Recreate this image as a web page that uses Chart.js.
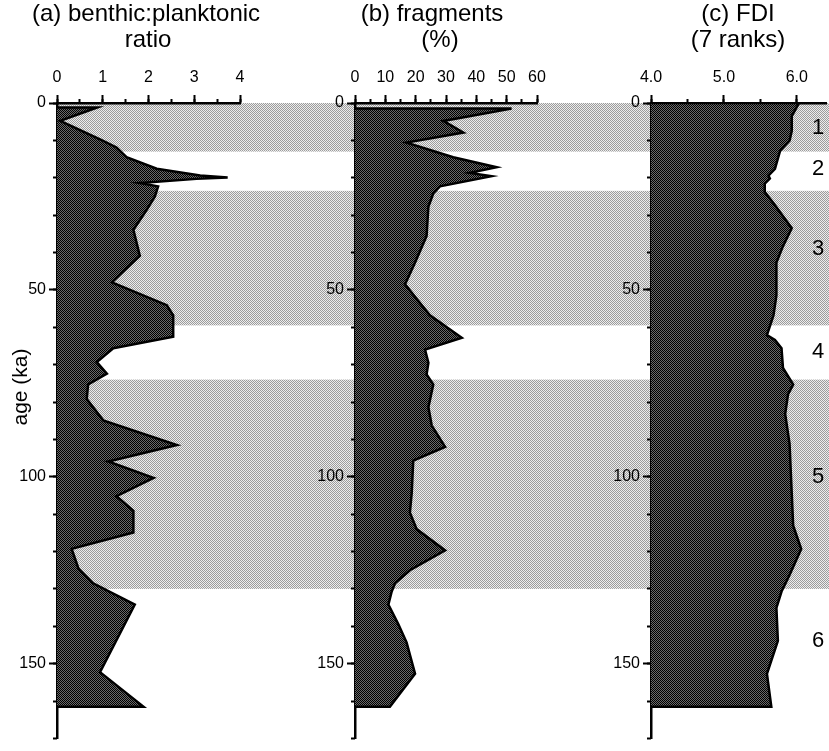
<!DOCTYPE html>
<html lang="en">
<head>
<meta charset="UTF-8">
<title>Benthic ratio, fragments and FDI</title>
<script src="https://cdn.jsdelivr.net/npm/chart.js@4.4.1/dist/chart.umd.min.js"></script>
<style>
  html, body { margin: 0; padding: 0; background: #fff; }
  .wrap { position: relative; width: 829px; height: 751px; overflow: hidden; }
  .wrap canvas { position: absolute; top: 0; }
</style>
</head>
<body>
<div class="wrap">
  <canvas id="chartA" width="300" height="751" style="left:0px"></canvas>
  <canvas id="chartB" width="260" height="751" style="left:300px"></canvas>
  <canvas id="chartC" width="269" height="751" style="left:560px"></canvas>
</div>
<script>
// isotope stages 1, 3 and 5 shaded (ka)
const stageBands = [[0, 13], [23.5, 59.5], [74, 130]];
const stageNames = ['1', '2', '3', '4', '5', '6'];
const stageLabelAges = [6.6, 17.6, 39, 66.5, 100, 144];

// (a) benthic:planktonic ratio
const ageA = [1.2, 1.2, 4.8, 9.7, 11.9, 14.5, 17.6, 19.4, 19.9, 20.3, 21.4, 22.3, 25, 28.6, 33.9,
  40.9, 48, 54.1, 56.8, 62.5, 65.6, 69.3, 72.4, 75.3, 79.2, 84.9, 91.5, 95.9, 100.3, 105.2,
  109.1, 114.9, 119.3, 124.6, 128.5, 134.2, 152.3, 161.5, 161.5];
const ratioA = [0, 0.88, 0.07, 0.94, 1.30, 1.52, 2.18, 3.13, 3.73, 3.05, 1.81, 2.21, 2.14, 1.96, 1.67,
  1.81, 1.20, 2.40, 2.54, 2.54, 1.23, 0.87, 1.09, 0.68, 0.65, 1.01, 2.62, 1.12, 2.11, 1.30,
  1.67, 1.67, 0.32, 0.47, 0.79, 1.70, 0.94, 1.89, 0];

// (b) fragments (%)
const ageB = [1.5, 1.5, 4.8, 7.9, 10.6, 14.5, 17.2, 18.7, 19.6, 22.3, 24.2, 27.7, 35.6, 42.7, 48.5,
  52.4, 56.8, 62.8, 66, 69.5, 72.6, 75.3, 81.4, 86.3, 92, 95.7, 104.3, 109.6, 114, 119.7,
  125, 128.5, 130.7, 134.2, 139.5, 144.3, 152.7, 161.5, 161.5];
const fragB = [0, 51.6, 29.1, 35.7, 17.0, 32.4, 46.7, 37.9, 45.0, 28.0, 25.8, 24.2, 23.6, 19.8, 16.5,
  20.3, 24.7, 35.2, 23.1, 24.2, 23.6, 25.8, 24.2, 25.3, 29.7, 19.2, 18.7, 18.1, 20.3, 29.7,
  18.1, 13.2, 12.1, 11.0, 14.3, 17.0, 19.8, 11.5, 0];

// (c) FDI (7 ranks)
const ageC = [0, 0, 3.5, 7.5, 10.1, 12.8, 17.6, 19.4, 20.2, 21.6, 23.8, 26.8, 33.5, 38.3, 42.7,
  51.5, 56.8, 62.1, 63.4, 65.6, 70.9, 75.3, 77.9, 83.2, 91.1, 104.3, 113.1, 119.3, 126.3, 130.7,
  135.1, 143.9, 152.7, 161.5, 161.5];
const fdiC = [4.0, 6.03, 5.93, 5.93, 5.90, 5.77, 5.70, 5.61, 5.63, 5.56, 5.56, 5.68, 5.93, 5.81, 5.72,
  5.72, 5.68, 5.59, 5.70, 5.79, 5.81, 5.95, 5.88, 5.84, 5.90, 5.93, 5.95, 6.06, 5.90, 5.79,
  5.72, 5.74, 5.59, 5.65, 4.0];

const FONT = '"Liberation Sans", Arial, Helvetica, sans-serif';

// small 2x2 checker tiles give the halftone look
function makePattern(dark, light) {
  const tile = document.createElement('canvas');
  tile.width = 2;
  tile.height = 2;
  const t = tile.getContext('2d');
  t.fillStyle = light;
  t.fillRect(0, 0, 2, 2);
  t.fillStyle = dark;
  t.fillRect(0, 0, 1, 1);
  t.fillRect(1, 1, 1, 1);
  return t.createPattern(tile, 'repeat');
}
const bandFill = makePattern('#9c9c9c', '#ededed');
const areaFill = makePattern('#000000', '#6a6a6a');

const bandPlugin = {
  id: 'bands',
  beforeDraw(chart, args, opts) {
    const { ctx, scales: { y } } = chart;
    const x0 = opts.fromAxis ? chart.chartArea.left : 0;
    ctx.save();
    ctx.fillStyle = bandFill;
    stageBands.forEach(([a, b]) => {
      const y0 = y.getPixelForValue(a);
      const y1 = y.getPixelForValue(b);
      ctx.fillRect(x0, y0, chart.width - x0, y1 - y0);
    });
    ctx.restore();
  }
};

const textPlugin = {
  id: 'texts',
  afterDraw(chart, args, opts) {
    const { ctx, scales: { y } } = chart;
    ctx.save();
    ctx.fillStyle = '#000';
    ctx.textAlign = 'center';
    ctx.textBaseline = 'alphabetic';
    ctx.font = '24px ' + FONT;
    opts.title.forEach((line, i) => ctx.fillText(line, opts.titleX[i], 21 + i * 26));

    if (opts.yTitle) {
      ctx.save();
      ctx.translate(21, 387);
      ctx.rotate(-Math.PI / 2);
      ctx.textBaseline = 'middle';
      ctx.font = '21px ' + FONT;
      ctx.fillText(opts.yTitle, 0, 0);
      ctx.restore();
    }

    if (opts.stages) {
      ctx.textBaseline = 'middle';
      ctx.font = '22px ' + FONT;
      stageNames.forEach((s, i) => {
        ctx.fillText(s, 258, y.getPixelForValue(stageLabelAges[i]));
      });
    }
    ctx.restore();
  }
};

function makeChart(id, ages, values, o) {
  // first and last points sit on the axis, so the line closes on itself
  const points = ages.map((a, i) => ({ x: values[i], y: a }));
  const tickFont = { family: FONT, size: 16 };
  return new Chart(document.getElementById(id), {
    type: 'line',
    data: {
      datasets: [{
        data: points,
        xAxisID: 'x',
        yAxisID: 'y',
        borderColor: '#000',
        borderWidth: 2.5,
        backgroundColor: areaFill,
        fill: 'shape',
        pointRadius: 0,
        tension: 0
      }]
    },
    options: {
      indexAxis: 'y',
      responsive: false,
      animation: false,
      devicePixelRatio: 1,
      layout: { padding: { top: 0, left: 0, right: o.padRight, bottom: 3 } },
      scales: {
        x: {
          type: 'linear', position: 'top', weight: 1,
          min: o.min, max: o.max,
          afterFit(s) { s.height = 103; },
          border: { display: true, color: '#000', width: 2.5 },
          grid: { drawOnChartArea: false, tickLength: 8, tickWidth: 2, tickColor: '#000' },
          ticks: {
            stepSize: o.major, includeBounds: false, color: '#000', font: tickFont, padding: 8,
            maxRotation: 0, autoSkip: false,
            callback: o.fmt
          }
        },
        xm: {
          type: 'linear', position: 'top', weight: 0,
          min: o.min, max: o.max,
          afterFit(s) { s.height = 0; },
          border: { display: false },
          grid: { drawOnChartArea: false, tickLength: 4, tickWidth: 2, tickColor: '#000' },
          ticks: { display: false, stepSize: o.minor, includeBounds: false, autoSkip: false }
        },
        y: {
          type: 'linear', position: 'left', weight: 1, reverse: true,
          min: 0, max: 170,
          afterFit(s) { s.width = o.left; },
          border: { display: true, color: '#000', width: 2.5 },
          grid: { drawOnChartArea: false, tickLength: 8, tickWidth: 2, tickColor: '#000' },
          ticks: { stepSize: 50, includeBounds: false, color: '#000', font: tickFont, padding: 3, autoSkip: false }
        },
        ym: {
          type: 'linear', position: 'left', weight: 0, reverse: true,
          min: 0, max: 170,
          afterFit(s) { s.width = 0; },
          border: { display: false },
          grid: { drawOnChartArea: false, tickLength: 4, tickWidth: 2, tickColor: '#000' },
          ticks: { display: false, stepSize: 10, autoSkip: false }
        }
      },
      plugins: {
        legend: { display: false },
        tooltip: { enabled: false },
        bands: { fromAxis: o.bandFromAxis },
        texts: { title: o.title, titleX: o.titleX, yTitle: o.yTitle, stages: o.stages }
      }
    },
    plugins: [bandPlugin, textPlugin]
  });
}

makeChart('chartA', ageA, ratioA, {
  min: 0, max: 4, major: 1, minor: 0.5, left: 57, padRight: 60,
  fmt: v => String(v),
  title: ['(a) benthic:planktonic', 'ratio'], titleX: [146, 148],
  yTitle: 'age (ka)', bandFromAxis: true
});

makeChart('chartB', ageB, fragB, {
  min: 0, max: 60, major: 10, minor: 5, left: 55, padRight: 23,
  fmt: v => String(v),
  title: ['(b) fragments', '(%)'], titleX: [132, 140],
  bandFromAxis: false
});

makeChart('chartC', ageC, fdiC, {
  min: 4, max: 6.4, major: 1, minor: 0.5, left: 91, padRight: 3,
  fmt: v => v.toFixed(1),
  title: ['(c) FDI', '(7 ranks)'], titleX: [178, 178],
  stages: true, bandFromAxis: false
});
</script>
</body>
</html>
